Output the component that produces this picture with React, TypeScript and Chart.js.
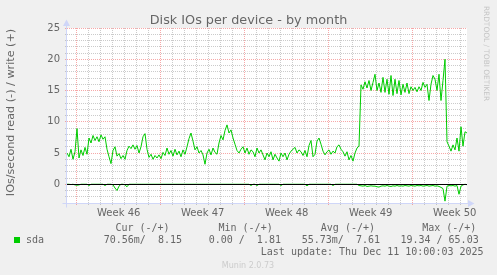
import React, { useEffect, useRef } from "react";
import { Chart, registerables } from "chart.js";

Chart.register(...registerables);

// ---- text ----
const TITLE = "Disk IOs per device - by month";
const Y_LABEL = "IOs/second read (-) / write (+)";
const WATERMARK = "RRDTOOL / TOBI OETIKER";
const FOOTER = "Munin 2.0.73";
const SERIES_NAME = "sda";
const LEGEND_HEADERS = ["Cur (-/+)", "Min (-/+)", "Avg (-/+)", "Max (-/+)"];
const LEGEND_VALUES = ["70.56m/  8.15", "0.00 /  1.81", "55.73m/  7.61", "19.34 / 65.03"];
const LAST_UPDATE = "Last update: Thu Dec 11 10:00:03 2025";

// ---- axes ----
const WEEK_LABELS = ["Week 46", "Week 47", "Week 48", "Week 49", "Week 50"];
const FIRST_WEEK_START_HOUR = 19.4; // hours after the first sample
const HOURS_TOTAL = 800;
const SAMPLE_HOURS = 4;
const Y_MIN = -3;
const Y_MAX = 25;
const Y_LABELED = [0, 5, 10, 15, 20, 25];

// ---- data (one sample every 4 hours) ----
const writeValues = [
  5.0, 4.4, 5.6, 4.0, 5.2, 8.9, 4.2, 5.5, 4.6, 5.9,
  4.8, 7.4, 6.6, 7.8, 7.0, 7.6, 6.8, 7.9, 7.2, 7.6,
  5.6, 4.4, 3.3, 5.4, 6.0, 4.5, 4.9, 4.1, 4.6, 4.0,
  5.4, 6.1, 5.7, 6.3, 5.6, 6.2, 5.0, 6.0, 7.6, 8.1,
  5.6, 4.3, 4.8, 4.0, 4.6, 4.2, 4.7, 4.1, 5.1, 4.6,
  5.8, 4.8, 5.4, 4.5, 5.6, 4.7, 5.3, 4.4, 5.5, 4.8,
  6.0, 7.3, 8.2, 6.9, 5.5, 6.0, 5.0, 5.4, 4.7, 3.2,
  5.0, 5.6, 4.7, 5.8, 5.1, 4.8, 6.6, 7.8, 7.1, 8.6,
  9.5, 8.2, 8.7, 7.4, 6.4, 5.4, 5.0, 5.6, 6.0, 5.0,
  5.8, 4.8, 5.5, 5.2, 4.4, 5.8, 5.0, 5.5, 4.7, 3.9,
  5.0, 4.4, 5.2, 3.9, 4.8, 4.2, 3.7, 5.0, 4.4, 5.0,
  3.9, 4.8, 5.3, 5.6, 5.9, 5.0, 5.5, 5.2, 4.6, 5.4,
  4.4, 6.2, 7.0, 4.4, 4.8, 6.9, 7.4, 6.4, 5.3, 4.7,
  5.2, 5.5, 4.8, 5.3, 5.0, 6.0, 6.3, 5.6, 5.2, 4.5,
  5.2, 3.9, 4.6, 3.7, 5.0, 5.8, 6.1, 15.9, 15.2, 16.4,
  15.4, 16.6, 15.0, 16.3, 17.6, 15.0, 16.2, 14.7, 17.1, 14.7,
  16.8, 14.4, 17.4, 14.2, 16.8, 14.5, 16.6, 14.3, 16.0, 14.7,
  16.2, 14.5, 15.6, 15.0, 15.5, 14.8, 15.6, 15.0, 16.3, 15.5,
  16.0, 13.4, 16.0, 17.4, 16.8, 15.0, 17.6, 13.4, 16.6, 20.0,
  6.8, 6.1, 5.3, 6.3, 5.5, 7.4, 5.3, 9.2, 6.1, 8.4,
  8.2,
];

const readValues = [
  0, 0, -0.05, 0, -0.1, -0.15, -0.1, 0, 0, 0,
  0, -0.2, 0, 0, 0, 0, 0, 0, 0, -0.2,
  0, 0, 0, -0.1, -0.6, -1.0, -0.3, 0, 0, -0.1,
  -0.4, 0, 0, 0, 0, 0, 0, 0, 0, 0,
  0, 0, 0, 0, 0, 0, 0, 0, 0, 0,
  0, 0, 0, 0, 0, 0, 0, 0, 0, 0,
  0, 0, 0, 0, 0, 0, 0, 0, 0, 0,
  0, 0, 0, 0, 0, 0, 0, 0, 0, 0,
  0, 0, 0, 0, 0, 0, 0, 0, 0, 0,
  0, 0, -0.2, 0, 0, -0.2, 0, 0, 0, 0,
  0, 0, 0, 0, 0, 0, 0, -0.2, 0, 0,
  0, 0, 0, 0, 0, 0, 0, 0, 0, 0,
  -0.25, 0, 0, 0, 0, 0, 0, 0, 0, 0,
  0, 0, 0, -0.2, 0, 0, 0, 0, 0, 0,
  0, 0, 0, 0, 0, 0, -0.2, -0.25, -0.3, -0.2,
  -0.35, -0.3, -0.25, -0.3, -0.3, -0.4, -0.45, -0.3, -0.25, -0.3,
  -0.2, -0.3, -0.35, -0.25, -0.3, -0.2, -0.3, -0.25, -0.3, -0.2,
  -0.25, -0.3, -0.2, -0.25, -0.3, -0.2, -0.25, -0.2, -0.3, -0.25,
  -0.2, -0.3, -0.25, -0.2, -0.3, -0.25, -0.35, -0.5, -0.7, -2.7,
  -0.3, -0.2, -0.25, -0.2, -0.3, -0.2, -1.6, -0.3, -0.1, 0,
  -0.07,
];

// ---- styles ----
const GREEN = "#00cc00";
const FONT_COLOR = "#666666";
const AXIS_COLOR = "#cfd6f8";
const GRID = "rgba(140,140,140,0.45)";
const MGRID = "rgba(240,110,110,0.6)";
const SANS = "'DejaVu Sans', sans-serif";
const MONO = "'DejaVu Sans Mono', monospace";

const xTickValues: number[] = [];
for (let v = FIRST_WEEK_START_HOUR - 12; v <= HOURS_TOTAL; v += 12) xTickValues.push(v);
const tickIndex = (v: number) => Math.round((v - FIRST_WEEK_START_HOUR) / 12);

const yTickValues: number[] = [];
for (let v = Y_MIN; v <= Y_MAX; v++) yTickValues.push(v);

const muninPlugin = {
  id: "munin",
  beforeDraw(chart: any) {
    const { ctx, chartArea: a } = chart;
    ctx.save();
    ctx.fillStyle = "#f0f0f0";
    ctx.fillRect(0, 0, chart.width, chart.height);
    ctx.fillStyle = "#ffffff";
    ctx.fillRect(a.left, a.top, a.right - a.left, a.bottom - a.top);
    ctx.restore();
  },
  afterDatasetsDraw(chart: any) {
    const { ctx, chartArea: a, scales } = chart;
    const y0 = Math.floor(scales.y.getPixelForValue(0)) + 0.5;
    ctx.save();
    ctx.strokeStyle = "#000000";
    ctx.lineWidth = 1;
    ctx.beginPath();
    ctx.moveTo(a.left, y0);
    ctx.lineTo(a.right, y0);
    ctx.stroke();

    // axes with arrows
    const ax = a.left - 0.5;
    const ay = a.bottom + 0.5;
    ctx.strokeStyle = AXIS_COLOR;
    ctx.fillStyle = AXIS_COLOR;
    ctx.beginPath();
    ctx.moveTo(ax, ay + 4);
    ctx.lineTo(ax, a.top - 5);
    ctx.moveTo(ax - 4, ay);
    ctx.lineTo(a.right + 3, ay);
    ctx.stroke();
    ctx.beginPath();
    ctx.moveTo(ax - 3.5, a.top - 2);
    ctx.lineTo(ax + 3.5, a.top - 2);
    ctx.lineTo(ax, a.top - 8.5);
    ctx.closePath();
    ctx.fill();
    ctx.beginPath();
    ctx.moveTo(a.right + 1, ay - 3.5);
    ctx.lineTo(a.right + 1, ay + 3.5);
    ctx.lineTo(a.right + 7.5, ay);
    ctx.closePath();
    ctx.fill();
    ctx.restore();
  },
  afterDraw(chart: any) {
    const { ctx } = chart;
    ctx.save();
    ctx.fillStyle = FONT_COLOR;
    // title
    ctx.font = `12.8px ${SANS}`;
    ctx.textAlign = "center";
    ctx.textBaseline = "alphabetic";
    ctx.fillText(TITLE, 248.5, 24);

    // y label
    ctx.save();
    ctx.translate(11, 112.5);
    ctx.rotate(-Math.PI / 2);
    ctx.font = `11.2px ${SANS}`;
    ctx.textAlign = "center";
    ctx.textBaseline = "middle";
    ctx.fillText(Y_LABEL, 0, 0);
    ctx.restore();

    // watermark
    ctx.save();
    ctx.translate(486, 53.5);
    ctx.rotate(Math.PI / 2);
    ctx.font = `7.4px ${SANS}`;
    ctx.fillStyle = "#c4c4c4";
    ctx.textAlign = "center";
    ctx.textBaseline = "middle";
    ctx.fillText(WATERMARK, 0, 0);
    ctx.restore();

    // legend
    ctx.fillStyle = GREEN;
    ctx.fillRect(14, 237, 6, 6);
    ctx.fillStyle = FONT_COLOR;
    ctx.font = `10px ${MONO}`;
    ctx.textAlign = "left";
    ctx.textBaseline = "alphabetic";
    ctx.fillText(SERIES_NAME, 26, 243.3);
    const headerX = [115.4, 218.5, 320.8, 422.2];
    LEGEND_HEADERS.forEach((h, i) => ctx.fillText(h, headerX[i], 231.3));
    const valueX = [103.7, 208.7, 301.7, 400.4];
    LEGEND_VALUES.forEach((v, i) => ctx.fillText(v, valueX[i], 243.3));
    ctx.fillText(LAST_UPDATE, 260.8, 254.5);

    // footer
    ctx.font = `8px ${SANS}`;
    ctx.fillStyle = "#cccccc";
    ctx.textAlign = "center";
    ctx.fillText(FOOTER, 248, 267.5);
    ctx.restore();
  },
};

export default function App() {
  const ref = useRef<HTMLCanvasElement>(null);

  useEffect(() => {
    const canvas = ref.current;
    if (!canvas) return;
    const hours = writeValues.map((_, i) => i * SAMPLE_HOURS);

    const chart = new Chart(canvas, {
      type: "line",
      data: {
        datasets: [
          {
            label: "sda write",
            data: writeValues.map((v, i) => ({ x: hours[i], y: v })),
            borderColor: GREEN,
            borderWidth: 1,
            pointRadius: 0,
            tension: 0,
            fill: false,
          },
          {
            label: "sda read",
            data: readValues.map((v, i) => ({ x: hours[i], y: v })),
            borderColor: GREEN,
            borderWidth: 1,
            pointRadius: 0,
            tension: 0,
            fill: false,
          },
        ],
      },
      options: {
        responsive: false,
        animation: false,
        devicePixelRatio: 1,
        events: [],
        layout: { padding: { left: 0, right: 30, top: 28, bottom: 0 } },
        plugins: {
          legend: { display: false },
          title: { display: false },
          tooltip: { enabled: false },
        },
        scales: {
          x: {
            type: "linear",
            min: 0,
            max: HOURS_TOTAL,
            afterBuildTicks: (scale: any) => {
              scale.ticks = xTickValues.map((v) => ({ value: v }));
            },
            afterFit: (scale: any) => {
              scale.height = 72;
            },
            grid: {
              lineWidth: 1,
              tickLength: 2,
              drawTicks: true,
              color: (c: any) => {
                const v = c.tick ? c.tick.value : null;
                if (v == null) return "rgba(0,0,0,0)";
                const k = tickIndex(v);
                if (k % 14 === 0) return MGRID;
                if (k % 2 === 0) return GRID;
                return "rgba(0,0,0,0)";
              },
            },
            border: { display: false, dash: [1, 1] },
            ticks: {
              autoSkip: false,
              maxRotation: 0,
              minRotation: 0,
              padding: 2,
              color: FONT_COLOR,
              font: { family: SANS, size: 10 },
              callback: (v: any) => {
                const k = tickIndex(Number(v));
                if (k >= 7 && (k - 7) % 14 === 0) {
                  const w = (k - 7) / 14;
                  return WEEK_LABELS[w] ?? "";
                }
                return "";
              },
            },
          },
          y: {
            type: "linear",
            min: Y_MIN,
            max: Y_MAX,
            afterBuildTicks: (scale: any) => {
              scale.ticks = yTickValues.map((v) => ({ value: v }));
            },
            afterFit: (scale: any) => {
              scale.width = 67;
            },
            grid: {
              lineWidth: 1,
              tickLength: 2,
              drawTicks: true,
              color: (c: any) => {
                const v = c.tick ? c.tick.value : null;
                if (v == null) return "rgba(0,0,0,0)";
                return v % 5 === 0 ? MGRID : GRID;
              },
            },
            border: { display: false, dash: [1, 1] },
            ticks: {
              autoSkip: false,
              padding: 5,
              color: FONT_COLOR,
              font: { family: SANS, size: 10 },
              callback: (v: any) => (Y_LABELED.includes(Number(v)) ? String(v) : ""),
            },
          },
        },
      },
      plugins: [muninPlugin],
    });

    return () => chart.destroy();
  }, []);

  return (
    <div style={{ position: "fixed", left: 0, top: 0, width: 497, height: 275 }}>
      <canvas ref={ref} width={497} height={275} style={{ display: "block", width: 497, height: 275 }} />
    </div>
  );
}
